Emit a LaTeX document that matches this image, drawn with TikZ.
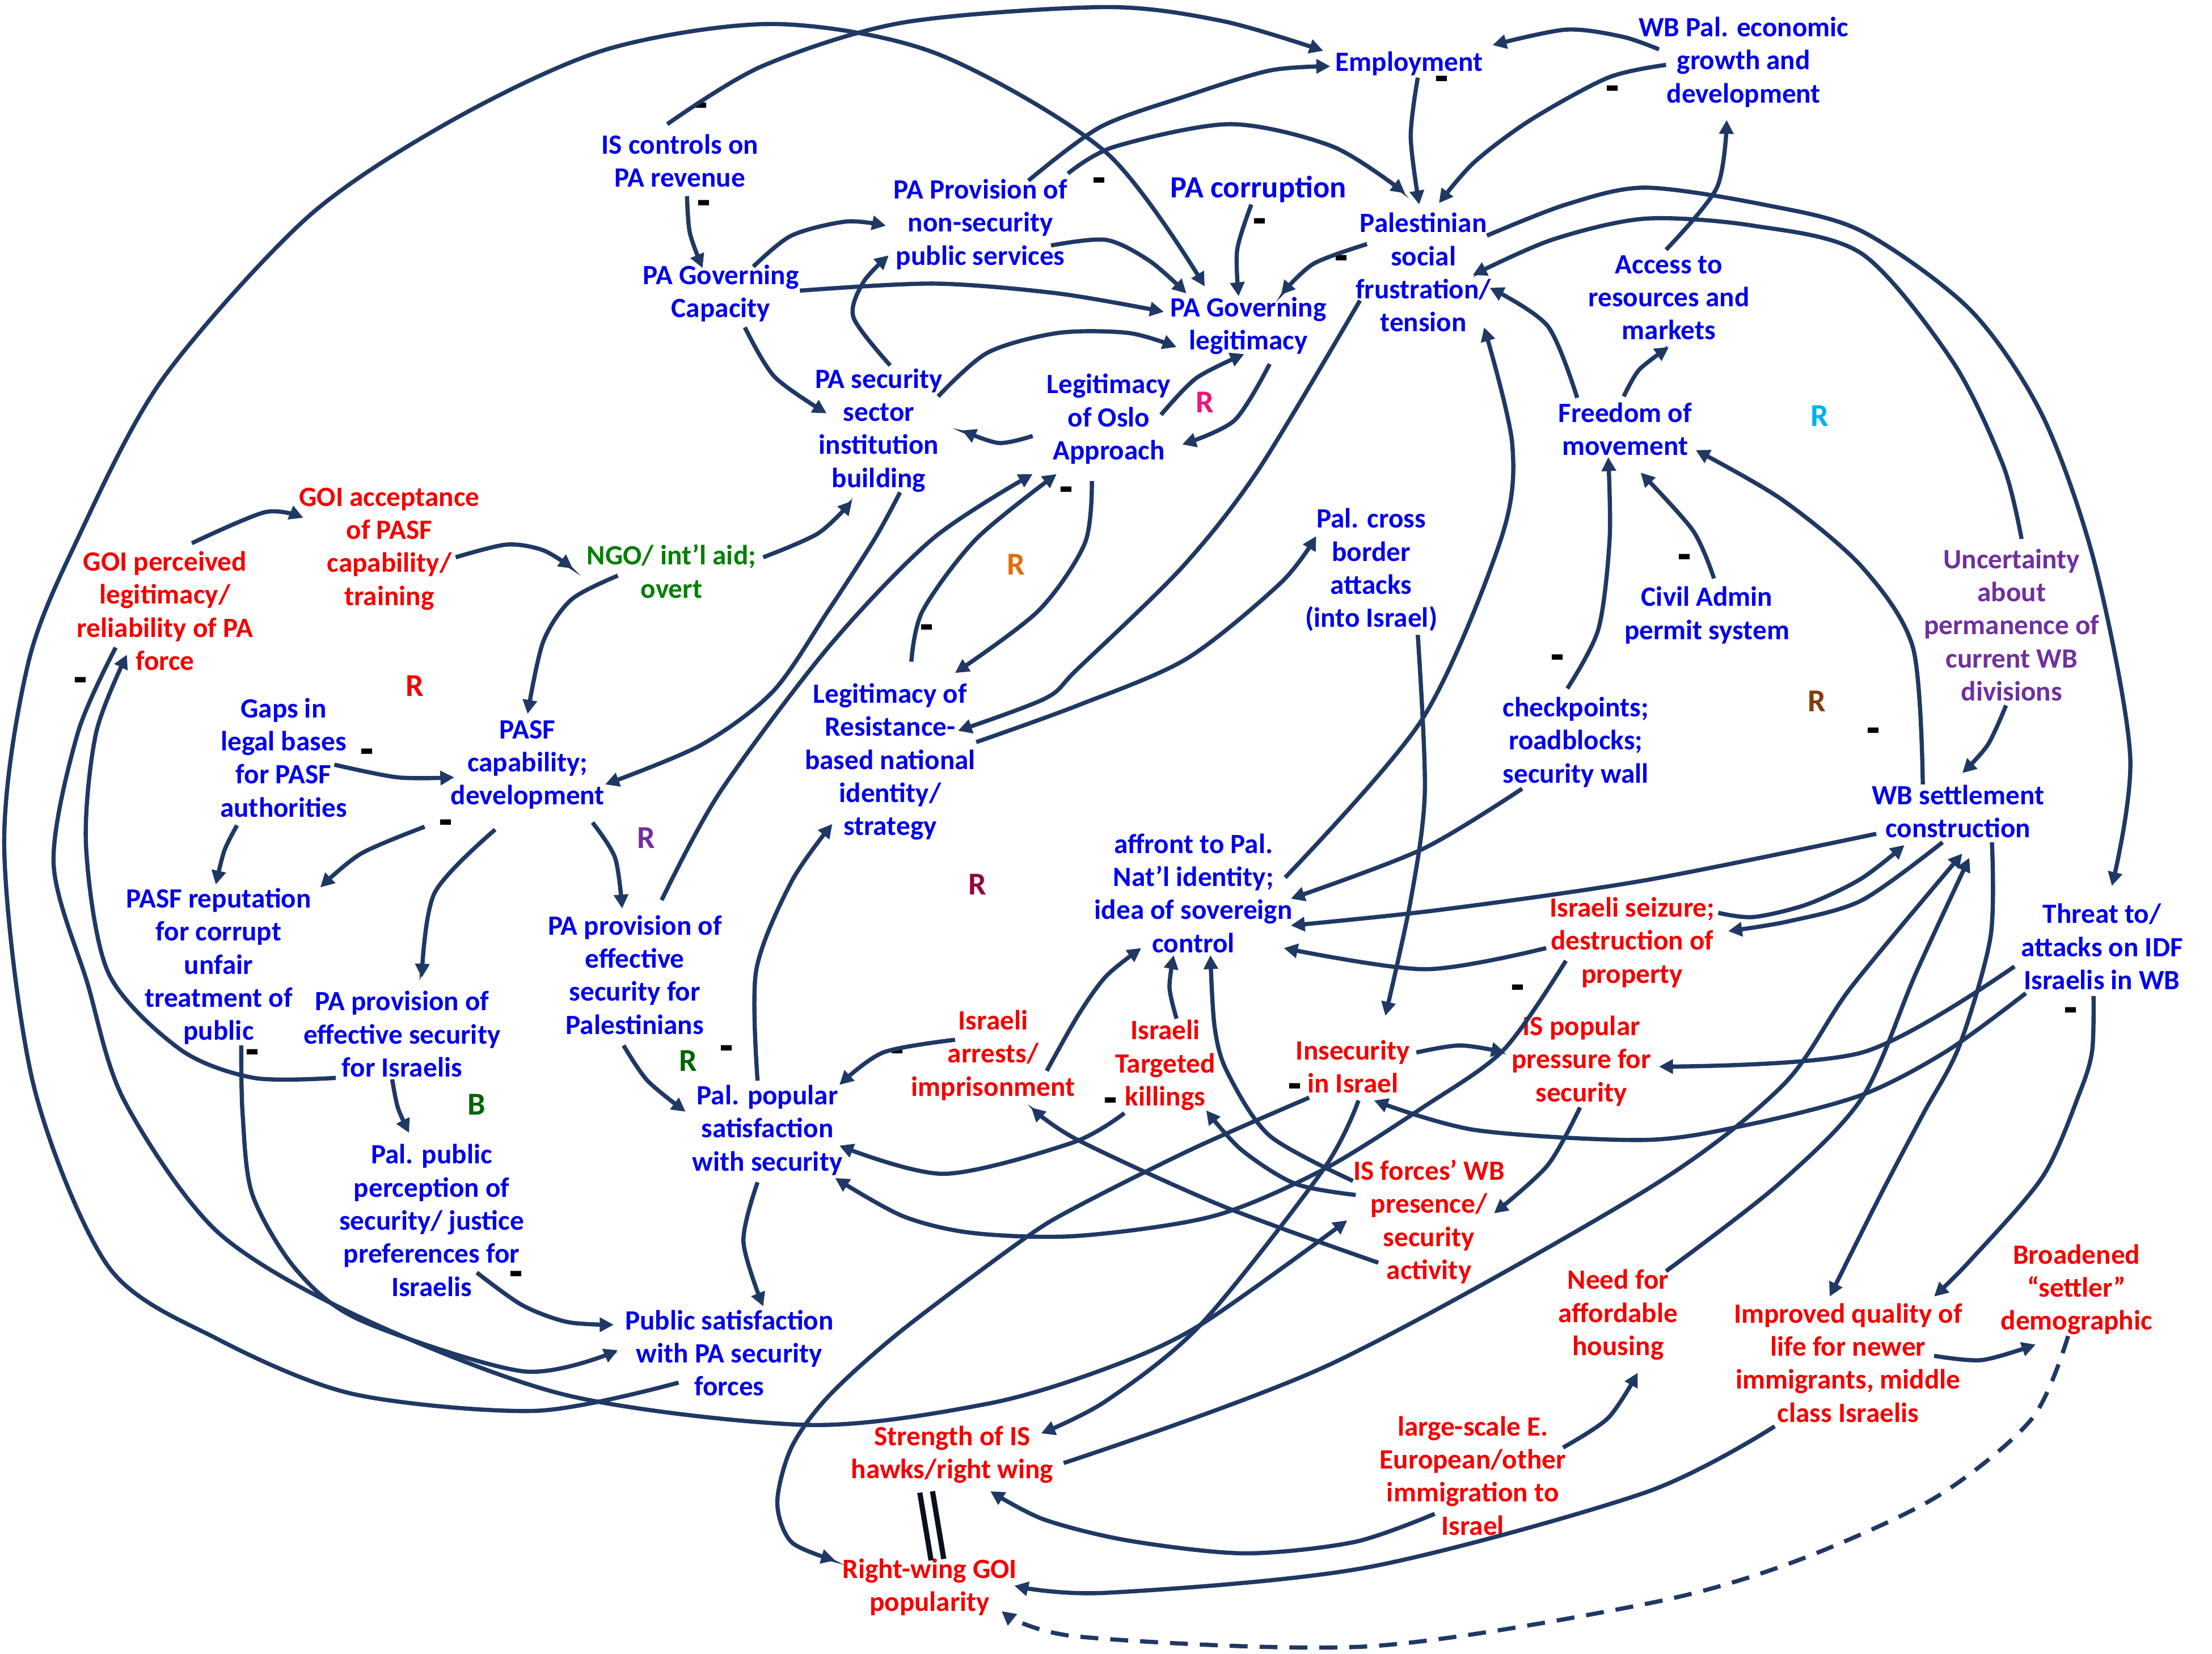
\documentclass[tikz,border=0pt]{standalone}
\usepackage{fontspec}
\setmainfont{Carlito}
\usetikzlibrary{arrows.meta,calc}
\definecolor{lnk}{RGB}{31,56,100}
\definecolor{tb}{RGB}{0,0,235}
\definecolor{tr}{RGB}{245,0,0}
\definecolor{tg}{RGB}{0,128,0}
\definecolor{tp}{RGB}{112,48,160}
\definecolor{rmag}{RGB}{240,20,120}
\definecolor{rcyan}{RGB}{0,176,240}
\definecolor{rorange}{RGB}{228,108,10}
\definecolor{rmaroon}{RGB}{150,0,60}
\definecolor{rdgreen}{RGB}{0,100,0}
\definecolor{rbrown}{RGB}{132,60,12}
\tikzset{
 lbl/.style={font=\fontsize{14}{16.6}\selectfont\bfseries, align=center, inner sep=0pt},
 bl/.style={lbl,text=tb}, rd/.style={lbl,text=tr}, gn/.style={lbl,text=tg}, pu/.style={lbl,text=tp},
 arr/.style={draw=lnk, line width=2.1pt, -{Triangle[length=7pt,width=7pt]}},
 loopR/.style={font=\fontsize{16}{16}\selectfont\bfseries, inner sep=0pt},
 mn/.style={font=\fontsize{14}{14}\selectfont\bfseries, inner sep=0pt, text=black},
 dl/.style={draw=black!70!lnk, line width=2.6pt},
}
\newcommand{\mns}{\scalebox{1.1}[2.2]{–}}
\begin{document}
\begin{tikzpicture}[x=0.02487cm,y=-0.02487cm]
\useasboundingbox (0,0) rectangle (1568,1172);
% nodes
\node[bl] (EMP) at (999,45) {Employment};
\node[bl] (WBP) at (1236,44) {WB Pal. economic\\growth and\\development};
\node[bl] (ISC) at (482,114) {IS controls on\\PA revenue};
\node[bl] (PNS) at (695,159) {PA Provision of\\non-security\\public services};
\node[bl,font=\fontsize{15.5}{18}\selectfont\bfseries] (COR) at (892,134) {PA corruption};
\node[bl] (PSF) at (1009,193) {Palestinian\\social\\frustration/\\tension};
\node[bl] (ACC) at (1183,211) {Access to\\resources and\\markets};
\node[bl] (PGC) at (511,208) {PA Governing\\Capacity};
\node[bl] (PGL) at (885,231) {PA Governing\\legitimacy};
\node[bl] (PSS) at (623,305) {PA security\\sector\\institution\\building};
\node[bl] (OSL) at (786,297) {Legitimacy\\of Oslo\\Approach};
\node[bl] (FOM) at (1152,304) {Freedom of\\movement};
\node[rd] (GAC) at (276,389) {GOI acceptance\\of PASF\\capability/\\training};
\node[gn] (NGO) at (476,405) {NGO/ int’l aid;\\overt};
\node[rd] (GPL) at (117,433) {GOI perceived\\legitimacy/\\reliability of PA\\force};
\node[bl] (PCB) at (972,404) {Pal. cross\\border\\attacks\\(into Israel)};
\node[bl] (CAP) at (1210,436) {Civil Admin\\permit system};
\node[pu] (UNC) at (1426,443) {Uncertainty\\about\\permanence of\\current WB\\divisions};
\node[bl] (GAP) at (201,537) {Gaps in\\legal bases\\for PASF\\authorities};
\node[bl] (PCD) at (374,542) {PASF\\capability;\\development};
\node[bl] (LRS) at (631,540) {Legitimacy of\\Resistance-\\based national\\identity/\\strategy};
\node[bl] (CHK) at (1117,526) {checkpoints;\\roadblocks;\\security wall};
\node[bl] (WBS) at (1388,575) {WB settlement\\construction};
\node[bl] (AFF) at (846,633) {affront to Pal.\\Nat’l identity;\\idea of sovereign\\control};
\node[bl] (REP) at (155,685) {PASF reputation\\for corrupt\\unfair\\treatment of\\public};
\node[bl] (PPP) at (450,691) {PA provision of\\effective\\security for\\Palestinians};
\node[rd] (SEZ) at (1157,668) {Israeli seizure;\\destruction of\\property};
\node[bl] (THR) at (1490,671) {Threat to/\\attacks on IDF\\Israelis in WB};
\node[bl] (PPI) at (285,733) {PA provision of\\effective security\\for Israelis};
\node[rd] (ARR) at (704,748) {Israeli\\arrests/\\imprisonment};
\node[rd] (TGK) at (826,755) {Israeli\\Targeted\\killings};
\node[rd] (INS) at (959,756) {Insecurity\\in Israel};
\node[rd] (IPP) at (1121,752) {IS popular\\pressure for\\security};
\node[bl] (PPS) at (544,801) {Pal. popular\\satisfaction\\with security};
\node[bl] (PPJ) at (306,865) {Pal. public\\perception of\\security/ justice\\preferences for\\Israelis};
\node[rd] (ISF) at (1013,866) {IS forces’ WB\\presence/\\security\\activity};
\node[rd] (NAH) at (1147,932) {Need for\\affordable\\housing};
\node[rd] (IQL) at (1310,966) {Improved quality of\\life for newer\\immigrants, middle\\class Israelis};
\node[rd] (BSD) at (1472,914) {Broadened\\“settler”\\demographic};
\node[bl] (PSP) at (517,959) {Public satisfaction\\with PA security\\forces};
\node[rd] (SHW) at (675,1031) {Strength of IS\\hawks/right wing};
\node[rd] (IMM) at (1044,1046) {large-scale E.\\European/other\\immigration to\\Israel};
\node[rd] (RGP) at (659,1125) {Right-wing GOI\\popularity};
% loop labels
\node[loopR,text=rmag] (L1) at (854,285) {R};
\node[loopR,text=rcyan] (L2) at (1290,295) {R};
\node[loopR,text=rorange] (L3) at (720,400) {R};
\node[loopR,text=tr] (L4) at (294,486) {R};
\node[loopR,text=tp] (L5) at (458,594) {R};
\node[loopR,text=rmaroon] (L6) at (693,627) {R};
\node[loopR,text=rdgreen] (L7) at (488,752) {R};
\node[loopR,text=rdgreen] (L8) at (338,783) {B};
\node[loopR,text=rbrown] (L9) at (1288,497) {R};
% minus signs
\foreach \p [count=\i] in {(497,80),(499,149),(1022,61),(1143,68),(779,133),(893,162),(951,188),(756,352),(657,450),(260,538),(316,588),(57,487),(179,751),(515,748),(636,750),(787,785),(918,775),(1076,705),(1104,471),(1194,400),(1328,523),(1468,721),(366,908)}
  \node[mn] (m\i) at \p {\mns};
% connectors
\draw[arr] plot[smooth] coordinates {($(ISC)+(-9,-26)$) (540,47) (640,16) (784,5) (867,15) ($(EMP)+(-61,-9)$)};
\draw[arr] plot[smooth] coordinates {($(PNS)+(34,-31)$) (780,90) (841,68) (900,50) ($(EMP)+(-56,2)$)};
\draw[arr] plot[smooth] coordinates {($(PSP)+(-36,21)$) (380,1000) (250,988) (154,949) (77,898) (24,770) (3,600) (20,470) (55,382) (115,269) (218,154) (321,85) (430,35) (549,17) (664,38) (784,108) ($(PGL)+(-31,-28)$)};
\draw[arr] plot[smooth] coordinates {($(PSF)+(45,-26)$) (1110,145) (1166,133) (1250,145) (1320,164) (1397,220) (1448,295) (1485,400) (1510,536) ($(THR)+(7,-43)$)};
\draw[arr] plot[smooth] coordinates {($(UNC)+(7,-61)$) (1420,330) (1384,256) (1320,180) (1243,160) (1166,155) (1100,170) ($(PSF)+(35,2)$)};
\draw[arr] plot[smooth] coordinates {($(ISC)+(5,25)$) (489,165) ($(PGC)+(-13,-18)$)};
\draw[arr] plot[smooth] coordinates {($(PGC)+(23,-19)$) (561,167) (600,157) ($(PNS)+(-67,1)$)};
\draw[arr] plot[smooth] coordinates {($(PGC)+(56,-2)$) (662,201) (750,208) ($(PGL)+(-60,-10)$)};
\draw[arr] plot[smooth] coordinates {($(PGC)+(17,24)$) (549,267) ($(PSS)+(-37,-12)$)};
\draw[arr] plot[smooth] coordinates {($(PSS)+(8,-46)$) (605,225) (612,200) ($(PNS)+(-65,22)$)};
\draw[arr] plot[smooth] coordinates {($(PNS)+(62,-36)$) (790,104) (872,88) (945,104) ($(PSF)+(-13,-56)$)};
\draw[arr] plot[smooth] coordinates {($(PNS)+(50,15)$) (784,170) (815,185) ($(PGL)+(-44,-23)$)};
\draw[arr] plot[smooth] coordinates {($(PSS)+(42,-24)$) (700,250) (750,236) (800,236) ($(PGL)+(-51,15)$)};
\draw[arr] plot[smooth] coordinates {($(OSL)+(-54,12)$) (708,314) ($(PSS)+(59,0)$)};
\draw[arr] plot[smooth] coordinates {($(OSL)+(37,-3)$) (848,268) ($(PGL)+(-3,20)$)};
\draw[arr] plot[smooth] coordinates {($(PGL)+(15,27)$) (875,298) ($(OSL)+(52,18)$)};
\draw[arr] plot[smooth] coordinates {($(COR)+(-5,11)$) (877,177) ($(PGL)+(-7,-21)$)};
\draw[arr] plot[smooth] coordinates {($(PSF)+(-40,-20)$) (931,187) ($(PGL)+(23,-22)$)};
\draw[arr] plot[smooth] coordinates {($(EMP)+(6,10)$) (1000,97) ($(PSF)+(-3,-48)$)};
\draw[arr] plot[smooth] coordinates {($(WBP)+(-60,-9)$) (1150,26) (1110,21) ($(EMP)+(59,-13)$)};
\draw[arr] plot[smooth] coordinates {($(WBP)+(-55,2)$) (1140,55) (1085,85) (1045,115) ($(PSF)+(11,-49)$)};
\draw[arr] plot[smooth] coordinates {($(ACC)+(-2,-34)$) (1217,133) ($(WBP)+(-12,41)$)};
\draw[arr] plot[smooth] coordinates {($(FOM)+(-1,-23)$) (1162,262) ($(ACC)+(0,35)$)};
\draw[arr] plot[smooth] coordinates {($(FOM)+(-34,-22)$) (1097,231) ($(PSF)+(47,11)$)};
\draw[arr] plot[smooth] coordinates {($(CHK)+(-6,-38)$) (1133,446) (1141,382) ($(FOM)+(-12,20)$)};
\draw[arr] plot[smooth] coordinates {($(CAP)+(5,-26)$) (1200,376) ($(FOM)+(11,31)$)};
\draw[arr] plot[smooth] coordinates {($(WBS)+(-25,-19)$) (1356,459) (1320,402) (1263,354) ($(FOM)+(50,15)$)};
\draw[arr] plot[smooth] coordinates {($(UNC)+(-4,57)$) (1409,528) ($(WBS)+(3,-27)$)};
\draw[arr] plot[smooth] coordinates {($(GPL)+(19,-48)$) (188,363) ($(GAC)+(-61,-22)$)};
\draw[arr] plot[smooth] coordinates {($(GAC)+(47,6)$) (359,386) (385,390) ($(NGO)+(-70,-2)$)};
\draw[arr] plot[smooth] coordinates {($(NGO)+(65,-10)$) (580,378) ($(PSS)+(-19,50)$)};
\draw[arr] plot[smooth] coordinates {($(NGO)+(-38,3)$) (405,425) (385,455) ($(PCD)+(0,-36)$)};
\draw[arr] plot[smooth] coordinates {($(PSS)+(15,44)$) (620,382) (587,433) (548,490) (497,528) ($(PCD)+(55,14)$)};
\draw[arr] plot[smooth] coordinates {($(GAP)+(36,5)$) (282,551) ($(PCD)+(-52,9)$)};
\draw[arr] plot[smooth] coordinates {($(GAP)+(-33,48)$) (159,603) ($(REP)+(-2,-58)$)};
\draw[arr] plot[smooth] coordinates {($(PCD)+(-73,44)$) (256,605) ($(REP)+(72,-56)$)};
\draw[arr] plot[smooth] coordinates {($(PCD)+(-23,46)$) (308,633) ($(PPI)+(14,-40)$)};
\draw[arr] plot[smooth] coordinates {($(PPI)+(-47,31)$) (180,764) (128,744) (77,690) (61,600) (68,520) ($(GPL)+(-27,31)$)};
\draw[arr] plot[smooth] coordinates {($(GPL)+(-35,26)$) (55,520) (38,612) (62,697) (88,780) (154,873) (256,934) (402,989) (574,1010) (700,995) (784,970) (851,939) ($(ISF)+(-58,-1)$)};
\draw[arr] plot[smooth] coordinates {($(REP)+(16,56)$) (172,790) (179,847) (210,900) (256,936) (371,972) ($(PSP)+(-79,-2)$)};
\draw[arr] plot[smooth] coordinates {($(PPJ)+(32,37)$) (370,925) (402,937) ($(PSP)+(-82,-20)$)};
\draw[arr] plot[smooth] coordinates {($(PPI)+(-7,32)$) (282,785) ($(PPJ)+(-16,-62)$)};
\draw[arr] plot[smooth] coordinates {($(PCD)+(46,41)$) (436,608) ($(PPP)+(-9,-47)$)};
\draw[arr] plot[smooth] coordinates {($(PPP)+(19,-53)$) (510,562) (587,459) (661,382) ($(OSL)+(-54,39)$)};
\draw[arr] plot[smooth] coordinates {($(LRS)+(15,-71)$) (654,433) (692,382) ($(OSL)+(-37,39)$)};
\draw[arr] plot[smooth] coordinates {($(OSL)+(-12,44)$) (769,385) (736,433) ($(LRS)+(46,-63)$)};
\draw[arr] plot[smooth] coordinates {($(PSF)+(-45,20)$) (892,333) (838,402) (764,474) (741,495) ($(LRS)+(48,-22)$)};
\draw[arr] plot[smooth] coordinates {($(LRS)+(61,-14)$) (764,500) (841,467) (908,413) ($(PCB)+(-39,-24)$)};
\draw[arr] plot[smooth] coordinates {($(PCB)+(33,46)$) (1010,561) (1000,638) ($(INS)+(23,-36)$)};
\draw[arr] plot[smooth] coordinates {($(AFF)+(65,-11)$) (1008,510) (1064,382) (1072,315) ($(PSF)+(43,39)$)};
\draw[arr] plot[smooth] coordinates {($(CHK)+(-38,33)$) (1008,602) ($(AFF)+(69,4)$)};
\draw[arr] plot[smooth] coordinates {($(WBS)+(-58,16)$) (1166,624) (1020,645) ($(AFF)+(69,23)$)};
\draw[arr] plot[smooth] coordinates {($(SEZ)+(-61,4)$) (1010,687) ($(AFF)+(64,39)$)};
\draw[arr] plot[smooth] coordinates {($(TGK)+(8,-33)$) (829,700) ($(AFF)+(-14,44)$)};
\draw[arr] plot[smooth] coordinates {($(ISF)+(-54,-29)$) (900,805) (870,760) (861,728) ($(AFF)+(12,44)$)};
\draw[arr] plot[smooth] coordinates {($(ARR)+(38,11)$) (764,720) (784,692) ($(AFF)+(-37,39)$)};
\draw[arr] plot[smooth] coordinates {($(ARR)+(-27,-11)$) (626,746) ($(PPS)+(51,-32)$)};
\draw[arr] plot[smooth] coordinates {($(TGK)+(-29,34)$) (760,810) (669,832) ($(PPS)+(51,11)$)};
\draw[arr] plot[smooth] coordinates {($(SEZ)+(-47,13)$) (1066,744) (1010,784) (938,829) (860,862) (764,876) (690,874) (640,862) ($(PPS)+(48,34)$)};
\draw[arr] plot[smooth] coordinates {($(ISF)+(-52,-19)$) (918,839) (880,815) ($(TGK)+(29,32)$)};
\draw[arr] plot[smooth] coordinates {($(ISF)+(-36,29)$) (867,855) (764,808) ($(ARR)+(27,37)$)};
\draw[arr] plot[smooth] coordinates {($(INS)+(45,-10)$) (1035,741) ($(IPP)+(-54,-6)$)};
\draw[arr] plot[smooth] coordinates {($(IPP)+(-1,33)$) (1097,826) ($(ISF)+(46,-6)$)};
\draw[arr] plot[smooth] coordinates {($(THR)+(-62,14)$) (1320,746) ($(IPP)+(55,4)$)};
\draw[arr] plot[smooth] coordinates {($(THR)+(-54,33)$) (1380,745) (1320,776) (1240,797) (1166,808) (1046,801) ($(INS)+(15,24)$)};
\draw[arr] plot[smooth] coordinates {($(INS)+(4,24)$) (938,829) (851,939) (784,993) ($(SHW)+(63,-15)$)};
\draw[arr] plot[smooth] coordinates {($(INS)+(-31,22)$) (846,814) (764,855) (726,878) (638,944) (587,990) (561,1026) (551,1065) (561,1093) ($(RGP)+(-67,-19)$)};
\draw[arr] plot[smooth] coordinates {($(SHW)+(79,6)$) (943,967) (1166,844) (1263,770) (1312,700) ($(WBS)+(3,30)$)};
\draw[arr] plot[smooth] coordinates {($(NAH)+(34,-31)$) (1260,840) (1320,778) (1358,690) ($(WBS)+(8,33)$)};
\draw[arr] plot[smooth] coordinates {($(WBS)+(24,22)$) (1411,664) (1389,741) (1363,790) (1333,847) ($(IQL)+(-13,-47)$)};
\draw[arr] plot[smooth] coordinates {($(THR)+(-6,35)$) (1483,745) (1474,775) (1448,834) (1397,893) ($(IQL)+(61,-47)$)};
\draw[arr] plot[smooth] coordinates {($(IMM)+(-27,27)$) (960,1093) (882,1101) (800,1092) (740,1077) ($(SHW)+(27,26)$)};
\draw[arr] plot[smooth] coordinates {($(IMM)+(64,-20)$) (1140,1005) ($(NAH)+(14,41)$)};
\draw[arr] plot[smooth] coordinates {($(IQL)+(-52,45)$) (1166,1058) (969,1111) (784,1129) ($(RGP)+(60,-1)$)};
\draw[arr] plot[smooth] coordinates {($(IQL)+(61,-5)$) (1405,964) ($(BSD)+(-29,39)$)};
\draw[arr,dash pattern=on 9pt off 6pt] plot[smooth] coordinates {($(BSD)+(-6,33)$) (1440,1006) (1371,1062) (1269,1108) (1166,1137) (969,1167) (764,1160) ($(RGP)+(51,17)$)};
\draw[arr] plot[smooth] coordinates {($(PPS)+(-7,37)$) (527,880) ($(PSP)+(24,-33)$)};
\draw[arr] plot[smooth] coordinates {($(PPP)+(-8,50)$) (459,766) ($(PPS)+(-58,-13)$)};
\draw[arr] plot[smooth] coordinates {($(PPS)+(-7,-35)$) (536,688) (561,625) ($(LRS)+(-41,44)$)};
\draw[arr] plot[smooth] coordinates {($(WBS)+(-11,22)$) (1320,638) (1268,653) ($(SEZ)+(68,-8)$)};
\draw[arr] plot[smooth] coordinates {($(SEZ)+(61,-21)$) (1243,650) (1281,641) (1319,623) ($(WBS)+(-38,24)$)};
% delay / equality marks
\draw[dl] ($(SHW)+(-23,27)$) -- ($(RGP)+(1,-19)$);
\draw[dl] ($(SHW)+(-14,26)$) -- ($(RGP)+(10,-20)$);
\end{tikzpicture}
\end{document}
